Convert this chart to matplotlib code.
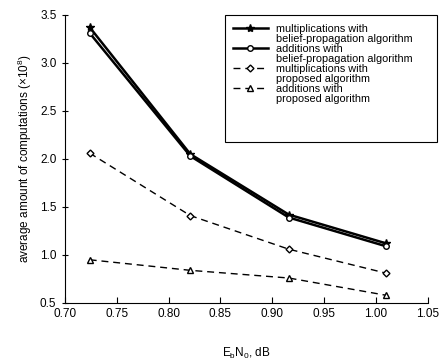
import matplotlib
matplotlib.use('Agg')
from matplotlib import pyplot as plt
from matplotlib.lines import Line2D
from matplotlib.patches import Rectangle

plt.rcParams['font.family'] = ['Liberation Sans', 'DejaVu Sans']
plt.rcParams['mathtext.fontset'] = 'custom'
plt.rcParams['mathtext.rm'] = 'Liberation Sans'

# valores
ebn0 = [0.724, 0.821, 0.916, 1.010]
mult_bp = [3.37, 2.05, 1.42, 1.12]
add_bp = [3.31, 2.03, 1.39, 1.09]
mult_prop = [2.06, 1.41, 1.06, 0.81]
add_prop = [0.95, 0.84, 0.76, 0.58]

xticks = [0.70, 0.75, 0.80, 0.85, 0.90, 0.95, 1.00, 1.05]
yticks = [0.5, 1.0, 1.5, 2.0, 2.5, 3.0, 3.5]

legenda = [('multiplications with', 'belief-propagation algorithm'),
           ('additions with', 'belief-propagation algorithm'),
           ('multiplications with', 'proposed algorithm'),
           ('additions with', 'proposed algorithm')]

fig = plt.figure(figsize=(4.41, 3.62), dpi=100)
ax = fig.add_axes([0.147, 0.163, 0.823, 0.796])

l1, = ax.plot(ebn0, mult_bp, 'k-', lw=1.8, marker='*', ms=6, mfc='k')
l2, = ax.plot(ebn0, add_bp, 'k-', lw=1.8, marker='o', ms=4, mfc='white')
l3, = ax.plot(ebn0, mult_prop, 'k--', lw=1.0, marker='D', ms=3.5, mfc='white',
              dashes=(5, 3.5))
l4, = ax.plot(ebn0, add_prop, 'k--', lw=1.0, marker='^', ms=4.5, mfc='white',
              dashes=(5, 3.5))

ax.set_xlim(0.70, 1.05)
ax.set_ylim(0.5, 3.5)
ax.set_xticks(xticks)
ax.set_xticklabels(['%.2f' % v for v in xticks], fontsize=8.5)
ax.set_yticks(yticks)
ax.set_yticklabels(['%.1f' % v for v in yticks], fontsize=8.5)
ax.spines['top'].set_visible(False)
ax.spines['right'].set_visible(False)
ax.tick_params(axis='x', direction='in', length=4)
ax.tick_params(axis='y', direction='inout', length=5)

ax.set_xlabel('E$_\\mathregular{b}$N$_\\mathregular{0}$, dB', fontsize=8.5, labelpad=19)
ax.set_ylabel('average amount of computations (×10$^\\mathregular{8}$)', fontsize=8.5)

# cada entrada em duas linhas: handle so na primeira
vazio = Line2D([], [], color='none')
handles = []
labels = []
for h, (a, b) in zip([l1, l2, l3, l4], legenda):
    handles += [h, vazio]
    labels += [a, b]

# moldura da legenda desenhada a parte (a original tem espaco sobrando embaixo)
caixa = Rectangle((0.510, 0.608), 0.481, 0.351, transform=fig.transFigure,
                  facecolor='white', edgecolor='k', lw=0.8, zorder=4,
                  clip_on=False)
ax.add_patch(caixa)

leg = ax.legend(handles, labels, loc='upper left', fontsize=7.8, frameon=False,
                handlelength=3.2, handletextpad=0.8, borderpad=0.0,
                borderaxespad=0, labelspacing=0.0,
                bbox_to_anchor=(0.528, 0.935), bbox_transform=fig.transFigure)
leg.set_zorder(5)

plt.savefig('out.png', dpi=100)
